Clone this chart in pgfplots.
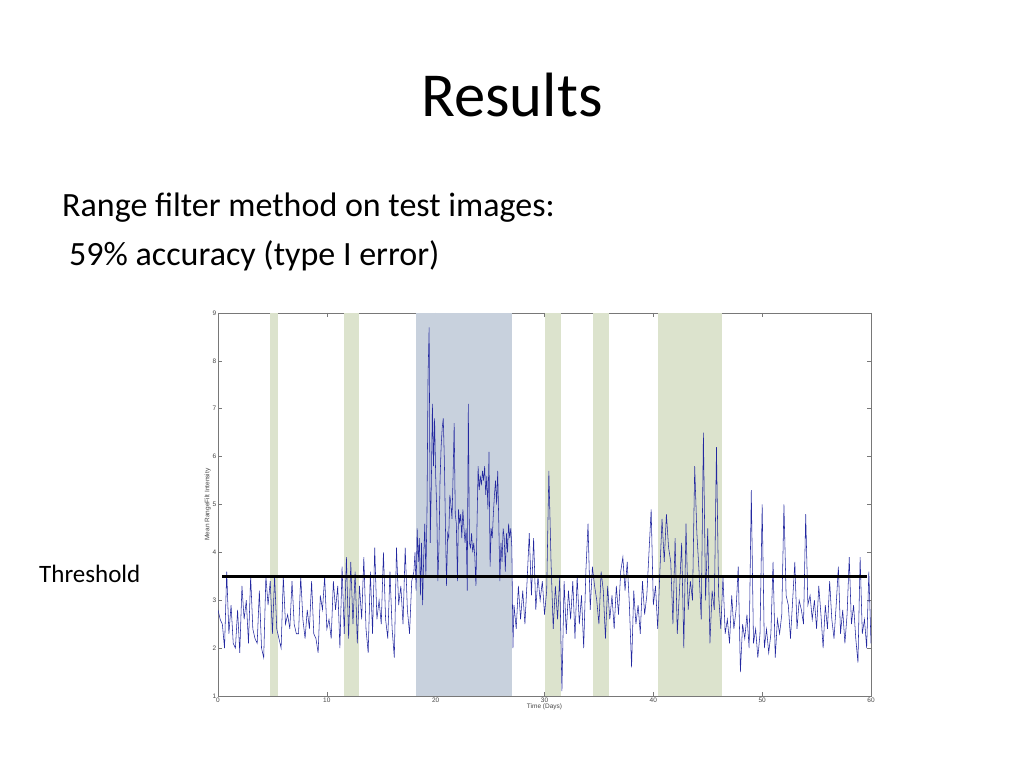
\documentclass[border=0pt]{standalone}
\usepackage{fontspec}
\setmainfont{Carlito}
\newfontfamily\arial{Liberation Sans}
\usepackage{pgfplots}
\pgfplotsset{compat=1.18}
\definecolor{bandgreen}{RGB}{220,227,205}
\definecolor{bandblue}{RGB}{200,209,221}
\definecolor{sigblue}{RGB}{35,40,160}
\definecolor{axgray}{RGB}{120,120,120}
\definecolor{labgray}{RGB}{70,70,70}
\begin{document}
\begin{tikzpicture}[x=1pt,y=1pt]
\useasboundingbox[fill=white] (0,0) rectangle (1024,768);
\node[anchor=base,inner sep=0pt,font=\fontsize{62.6}{70}\selectfont] at (512,651) {Results};
\node[anchor=base west,inner sep=0pt,font=\fontsize{34}{40}\selectfont] at (62,551) {Range filter method on test images:};
\node[anchor=base west,inner sep=0pt,font=\fontsize{34}{40}\selectfont] at (69,502) {59\% accuracy (type I error)};
\node[anchor=base west,inner sep=0pt,font=\fontsize{25}{30}\selectfont] at (39,185) {Threshold};
\begin{axis}[at={(218pt,72pt)}, anchor=south west, scale only axis,
  width=653pt, height=383pt,
  xmin=0, xmax=60, ymin=1, ymax=9,
  xtick={0,10,...,60}, ytick={1,2,...,9},
  tick align=inside, major tick length=4pt,
  axis line style={axgray, line width=0.6pt},
  tick style={axgray, line width=0.5pt},
  /pgf/number format/assume math mode=true,
  ticklabel style={font=\arial\fontsize{6.5}{7}\selectfont, text=labgray, inner sep=1.5pt},
  xlabel={Time (Days)}, ylabel={Mean RangeFilt Intensity},
  label style={font=\arial\fontsize{6.5}{7}\selectfont, text=labgray},
  xlabel style={yshift=4pt},
  ylabel style={yshift=-3pt},
  clip=true]
\addplot[fill=bandgreen, draw=none] coordinates {(4.8,1) (5.55,1) (5.55,9) (4.8,9)} -- cycle;
\addplot[fill=bandgreen, draw=none] coordinates {(11.55,1) (13.0,1) (13.0,9) (11.55,9)} -- cycle;
\addplot[fill=bandblue, draw=none] coordinates {(18.2,1) (27.0,1) (27.0,9) (18.2,9)} -- cycle;
\addplot[fill=bandgreen, draw=none] coordinates {(30.0,1) (31.5,1) (31.5,9) (30.0,9)} -- cycle;
\addplot[fill=bandgreen, draw=none] coordinates {(34.5,1) (35.9,1) (35.9,9) (34.5,9)} -- cycle;
\addplot[fill=bandgreen, draw=none] coordinates {(40.4,1) (46.3,1) (46.3,9) (40.4,9)} -- cycle;
\addplot[sigblue, line width=0.55pt, mark=none] coordinates {
(0.0,2.8)(0.2,2.6)(0.4,2.5)(0.6,2.0)(0.8,3.6)(1.0,2.3)(1.2,2.9)(1.4,2.1)(1.6,2.0)(1.8,2.8)
(2.0,1.9)(2.2,3.3)(2.4,2.6)(2.6,3.0)(2.8,2.1)(3.0,3.5)(3.2,2.4)(3.4,2.2)(3.6,2.1)(3.8,3.2)
(4.0,2.0)(4.2,1.8)(4.4,3.5)(4.6,2.9)(4.8,3.4)(5.0,2.3)(5.2,3.5)(5.4,2.4)(5.6,2.2)(5.8,2.0)
(6.0,3.5)(6.2,2.5)(6.4,2.7)(6.6,2.4)(6.8,3.4)(7.0,2.5)(7.2,2.3)(7.4,2.3)(7.6,3.5)(7.8,2.6)
(8.0,2.2)(8.2,2.8)(8.4,2.4)(8.6,3.4)(8.8,2.3)(9.0,2.2)(9.2,1.9)(9.4,3.1)(9.6,2.8)(9.8,3.5)
(10.0,2.4)(10.2,2.6)(10.4,2.2)(10.6,3.4)(10.8,2.8)(11.0,3.3)(11.2,2.0)(11.4,3.7)(11.6,2.3)(11.8,3.9)
(12.0,2.2)(12.2,3.8)(12.4,2.5)(12.6,3.6)(12.8,2.1)(13.0,3.3)(13.2,2.6)(13.4,3.9)(13.6,2.4)(13.8,1.9)
(14.0,3.6)(14.2,2.3)(14.4,4.1)(14.6,2.6)(14.8,3.0)(15.0,2.5)(15.2,4.0)(15.4,2.6)(15.6,2.2)(15.8,3.6)
(16.0,2.4)(16.2,1.8)(16.4,4.1)(16.6,2.9)(16.8,3.3)(17.0,2.5)(17.2,4.1)(17.4,2.8)(17.6,2.3)(17.8,3.4)
(18.0,3.6)(18.1,4.0)(18.2,3.2)(18.3,4.5)(18.4,3.8)(18.5,4.3)(18.6,3.1)(18.7,4.2)(18.8,2.9)(18.9,3.9)
(19.0,4.6)(19.1,3.5)(19.2,4.8)(19.3,7.7)(19.4,8.7)(19.5,4.2)(19.6,5.4)(19.7,7.1)(19.8,5.8)(19.9,6.8)
(20.0,5.6)(20.1,4.9)(20.2,3.4)(20.3,4.1)(20.4,5.5)(20.5,6.2)(20.6,6.6)(20.7,6.8)(20.8,5.9)(20.9,4.5)
(21.0,3.3)(21.1,4.4)(21.2,4.3)(21.3,5.2)(21.4,5.0)(21.5,4.7)(21.6,5.6)(21.7,6.7)(21.8,4.8)(21.9,4.6)
(22.0,3.4)(22.1,4.9)(22.2,4.6)(22.3,4.8)(22.4,4.3)(22.5,4.9)(22.6,4.5)(22.7,4.2)(22.8,4.5)(22.9,3.2)
(23.0,7.1)(23.1,4.2)(23.2,4.1)(23.3,4.4)(23.4,4.0)(23.5,4.2)(23.6,3.9)(23.7,3.3)(23.8,4.6)(23.9,5.8)
(24.0,5.3)(24.1,5.6)(24.2,5.4)(24.3,5.7)(24.4,5.5)(24.5,5.8)(24.6,5.2)(24.7,5.6)(24.8,4.9)(24.9,6.1)
(25.0,3.7)(25.1,4.5)(25.2,4.3)(25.3,4.8)(25.4,5.2)(25.5,5.5)(25.6,5.0)(25.7,5.7)(25.8,4.6)(25.9,3.4)
(26.0,4.2)(26.1,3.8)(26.2,4.5)(26.3,4.3)(26.4,3.6)(26.5,4.4)(26.6,4.0)(26.7,4.6)(26.8,4.3)(26.9,4.5)
(27.0,4.1)(27.1,2.0)
(27.2,2.9)(27.4,2.4)(27.6,3.3)(27.8,2.6)(28.0,3.2)(28.2,2.5)(28.4,3.4)(28.6,4.4)(28.8,3.1)(29.0,4.3)
(29.2,2.8)(29.4,3.5)(29.6,3.0)(29.8,3.4)(30.0,2.7)(30.2,3.2)(30.4,5.7)(30.6,3.8)(30.8,2.4)(31.0,3.3)
(31.2,2.6)(31.4,3.5)(31.6,1.1)(31.8,3.4)(32.0,2.3)(32.2,3.2)(32.4,2.6)(32.6,3.4)(32.8,2.2)(33.0,3.5)
(33.2,2.5)(33.4,3.1)(33.6,2.0)(33.8,3.6)(34.0,4.6)(34.2,2.8)(34.4,3.7)(34.6,3.3)(34.8,3.0)(35.0,2.5)
(35.2,3.6)(35.4,3.2)(35.6,2.2)(35.8,3.3)(36.0,2.6)(36.2,3.1)(36.4,2.4)(36.6,3.3)(36.8,2.7)(37.0,3.6)
(37.2,3.9)(37.4,3.2)(37.6,3.8)(37.8,2.9)(38.0,1.6)(38.2,3.2)(38.4,2.5)(38.6,2.9)(38.8,2.3)(39.0,3.4)
(39.2,2.7)(39.4,3.1)(39.6,4.0)(39.8,4.9)(40.0,2.9)(40.2,3.3)(40.4,2.4)(40.6,3.6)(40.8,4.7)(41.0,3.8)
(41.2,4.8)(41.4,4.1)(41.6,3.8)(41.8,2.5)(42.0,4.3)(42.2,2.3)(42.4,3.2)(42.6,4.2)(42.8,2.0)(43.0,4.6)
(43.2,2.8)(43.4,3.4)(43.6,3.0)(43.8,5.8)(44.0,4.4)(44.2,3.6)(44.4,2.6)(44.6,6.5)(44.8,3.0)(45.0,4.5)
(45.2,2.1)(45.4,3.2)(45.6,2.8)(45.8,6.2)(46.0,3.1)(46.2,2.4)(46.4,3.5)(46.6,2.3)(46.8,2.6)(47.0,2.1)
(47.2,3.1)(47.4,2.4)(47.6,2.8)(47.8,3.7)(48.0,1.5)(48.2,2.5)(48.4,2.2)(48.6,2.7)(48.8,2.0)(49.0,5.3)
(49.2,2.1)(49.4,2.4)(49.6,1.8)(49.8,2.3)(50.0,5.0)(50.2,2.0)(50.4,2.4)(50.6,1.9)(50.8,2.3)(51.0,3.8)
(51.2,1.8)(51.4,2.6)(51.6,2.3)(51.8,2.7)(52.0,5.0)(52.2,3.1)(52.4,2.9)(52.6,2.2)(52.8,3.0)(53.0,3.8)
(53.2,2.4)(53.4,3.0)(53.6,2.8)(53.8,2.5)(54.0,4.8)(54.2,2.9)(54.4,3.1)(54.6,2.6)(54.8,3.0)(55.0,2.4)
(55.2,3.3)(55.4,2.7)(55.6,2.0)(55.8,2.9)(56.0,2.4)(56.2,3.4)(56.4,2.6)(56.6,2.2)(56.8,2.9)(57.0,3.7)
(57.2,2.3)(57.4,2.8)(57.6,2.1)(57.8,2.7)(58.0,3.9)(58.2,2.5)(58.4,2.9)(58.6,2.2)(58.8,1.7)(59.0,3.9)
(59.2,2.3)(59.4,2.6)(59.6,2.0)(59.8,3.6)(60.0,2.1)
};
\addplot[black, line width=2.6pt, mark=none] coordinates {(0.4,3.5) (59.6,3.5)};
\end{axis}
\end{tikzpicture}
\end{document}
